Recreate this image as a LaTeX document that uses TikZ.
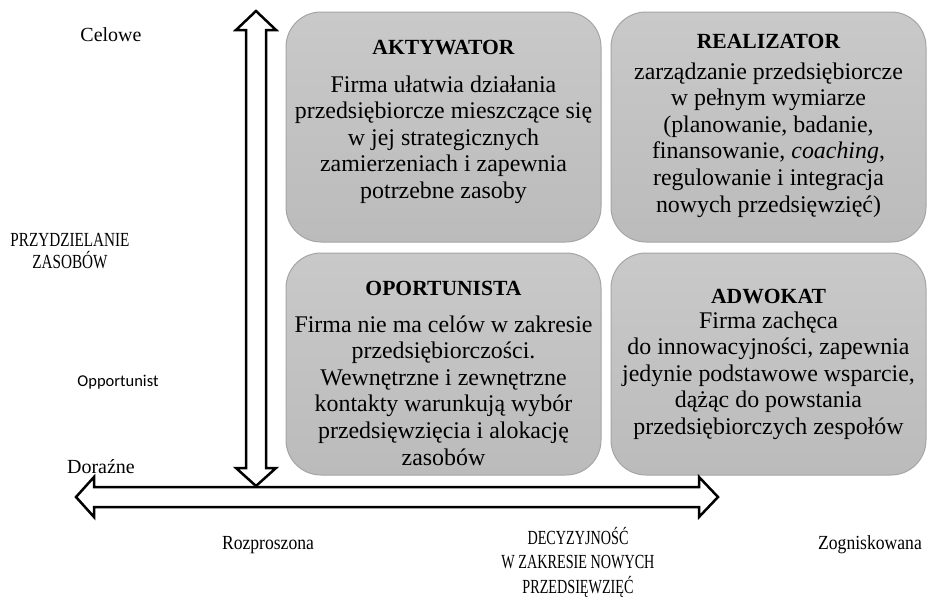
\documentclass[tikz,border=0pt]{standalone}
\usepackage{fontspec}
\setmainfont{Liberation Serif}
\newfontfamily\calibrifont{Carlito}
\newfontfamily\narrowserif[FakeStretch=0.88]{Liberation Serif}
\newfontfamily\capsserif[FakeStretch=0.76]{Liberation Serif}
\newfontfamily\condserif[FakeStretch=0.71]{Liberation Serif}
\definecolor{boxtop}{HTML}{C9C9C9}
\definecolor{boxbot}{HTML}{BBBBBB}
\definecolor{boxedge}{HTML}{A5A5A5}
\newcommand\boxtitle[1]{{\fontsize{21.6}{27}\selectfont\bfseries #1}}
\begin{document}
\begin{tikzpicture}[x=1pt,y=-1pt,
  quad/.style={draw=boxedge, line width=1pt, rounded corners=35pt,
    top color=boxtop, bottom color=boxbot, minimum width=315pt, inner sep=0pt},
  boxtext/.style={anchor=north, align=center, inner sep=0pt,
    font=\fontsize{23.9}{26.6}\selectfont},
  axislabel/.style={align=center, inner sep=0pt, font=\fontsize{20}{24}\selectfont},
  bigarrow/.style={draw=black, line width=2.5pt, fill=white, line join=miter}
]
\fill[white] (0,0) rectangle (943,611);
\useasboundingbox (0,0) rectangle (943,611);

% four quadrant boxes
\node[quad, minimum height=230pt] (aktywator) at (443.5,127) {};
\node[quad, minimum height=230pt] (realizator) at (768.5,127) {};
\node[quad, minimum height=222pt] (oportunista) at (443.5,364) {};
\node[quad, minimum height=222pt] (adwokat) at (768.5,364) {};

\node[boxtext] (aktywator-txt) at (443.5,40) {\boxtitle{AKTYWATOR}\\[11pt]
  Firma ułatwia działania\\
  przedsiębiorcze mieszczące się\\
  w jej strategicznych\\
  zamierzeniach i zapewnia\\
  potrzebne zasoby};
\node[boxtext] (realizator-txt) at (768.5,34) {\boxtitle{REALIZATOR}\\[4pt]
  zarządzanie przedsiębiorcze\\
  w pełnym wymiarze\\
  (planowanie, badanie,\\
  finansowanie, \textit{coaching},\\
  regulowanie i integracja\\
  nowych przedsięwzięć)};
\node[boxtext] (oportunista-txt) at (443.5,281) {\boxtitle{OPORTUNISTA}\\[10pt]
  Firma nie ma celów w zakresie\\
  przedsiębiorczości.\\
  Wewnętrzne i zewnętrzne\\
  kontakty warunkują wybór\\
  przedsięwzięcia i alokację\\
  zasobów};
\node[boxtext] (adwokat-txt) at (768.5,289) {\boxtitle{ADWOKAT}\\[-2pt]
  Firma zachęca\\
  do innowacyjności, zapewnia\\
  jedynie podstawowe wsparcie,\\
  dążąc do powstania\\
  przedsiębiorczych zespołów};

% vertical axis arrow (resource allocation)
\draw[bigarrow] (256,11) -- (276,30) -- (266,30) -- (266,468) -- (276,468)
  -- (256,486) -- (236,468) -- (246,468) -- (246,30) -- (236,30) -- cycle;
% horizontal axis arrow (decision making)
\draw[bigarrow] (76,497) -- (94,477) -- (94,487) -- (699,487) -- (699,477)
  -- (718,497) -- (699,517) -- (699,507) -- (94,507) -- (94,517) -- cycle;

% axis labels
\node[axislabel] (celowe) at (111,35) {Celowe};
\node[axislabel, font=\fontsize{20}{22}\capsserif] (przydzielanie) at (70,251) {PRZYDZIELANIE\\ZASOBÓW};
\node[axislabel, font=\fontsize{16.5}{20}\calibrifont] (opportunist) at (118,382) {Opportunist};
\node[axislabel] (dorazne) at (101,467) {Doraźne};
\node[axislabel, font=\fontsize{20}{24}\narrowserif] (rozproszona) at (268,545) {Rozproszona};
\node[axislabel, font=\fontsize{20}{24.5}\condserif] (decyzyjnosc) at (578,562) {DECYZYJNOŚĆ\\W ZAKRESIE NOWYCH\\PRZEDSIĘWZIĘĆ};
\node[axislabel, font=\fontsize{20}{24}\narrowserif] (zogniskowana) at (870,545) {Zogniskowana};
\end{tikzpicture}
\end{document}
